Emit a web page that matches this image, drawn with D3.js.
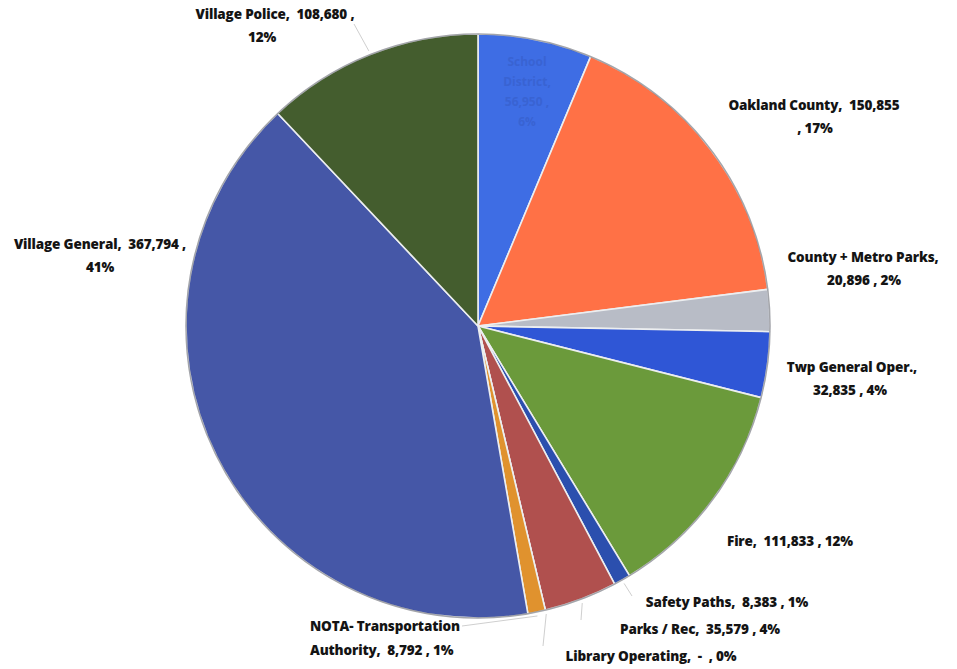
<!DOCTYPE html>
<html><head><meta charset="utf-8">
<script src="https://cdn.jsdelivr.net/npm/d3@7"></script>
<style>html,body{margin:0;padding:0;background:#fff;}svg{display:block;} text{white-space:pre;}</style>
</head><body>
<svg id="chart" width="957" height="669"></svg>
<script>
// ---- data ----
const categories = ["School District", "Oakland County", "County + Metro Parks", "Twp General Oper.", "Fire", "Safety Paths", "Parks / Rec", "Library Operating", "NOTA- Transportation Authority", "Village General", "Village Police"];
const values = [56950, 150855, 20896, 32835, 111833, 8383, 36579, 0, 8792, 367794, 108680];
const valueLabels = ["56,950", "150,855", "20,896", "32,835", "111,833", "8,383", "35,579", "-", "8,792", "367,794", "108,680"];
const pctLabels = ["6%", "17%", "2%", "4%", "12%", "1%", "4%", "0%", "1%", "41%", "12%"];
const colors = ["#3E6DE4", "#FF7146", "#B8BCC6", "#2F56D6", "#6B9A3B", "#2B4FAE", "#B0504E", "#999999", "#E0922E", "#4557A7", "#445D2E"];

// ---- layout (label placement) ----
const labelLayout = [
  {lines:[], x:[], y:[], anchor:"middle"},
  {lines:["Oakland County,  " + valueLabels[1], ", " + pctLabels[1]], x:[814,815], y:[110,133], anchor:"middle"},
  {lines:["County + Metro Parks,", valueLabels[2] + " , " + pctLabels[2]], x:[863,864], y:[262,285], anchor:"middle"},
  {lines:["Twp General Oper.,", valueLabels[3] + " , " + pctLabels[3]], x:[852,850], y:[372,395], anchor:"middle"},
  {lines:["Fire,  " + valueLabels[4] + " , " + pctLabels[4]], x:[790], y:[546], anchor:"middle"},
  {lines:["Safety Paths,  " + valueLabels[5] + " , " + pctLabels[5]], x:[727], y:[607], anchor:"middle"},
  {lines:["Parks / Rec,  " + valueLabels[6] + " , " + pctLabels[6]], x:[700], y:[634], anchor:"middle"},
  {lines:["Library Operating,  " + valueLabels[7] + "  , " + pctLabels[7]], x:[651], y:[661], anchor:"middle"},
  {lines:["NOTA- Transportation", "Authority,  " + valueLabels[8] + " , " + pctLabels[8]], x:[310,310], y:[631,655], anchor:"start"},
  {lines:["Village General,  " + valueLabels[9] + " ,", pctLabels[9]], x:[100,100], y:[249,272], anchor:"middle"},
  {lines:["Village Police,  " + valueLabels[10] + " ,", pctLabels[10]], x:[275,262], y:[19,42], anchor:"middle"}
];
const leaders = [
  null, null, null, null, null,
  {to:[632,596]}, {to:[581,620]}, {to:[543,646]}, {to:[462,626]}, null, {to:[354,24]}
];

const cx = 478, cy = 326, r = 292;
const svg = d3.select("#chart");
const g = svg.append("g").attr("transform", `translate(${cx},${cy})`);

const data = categories.map((c,i)=>({name:c, value:values[i], i}));
const pie = d3.pie().value(d=>d.value).sort(null).startAngle(0).endAngle(2*Math.PI);
const arcs = pie(data);
const arc = d3.arc().innerRadius(0).outerRadius(r);

g.selectAll("path.slice").data(arcs).join("path")
  .attr("class","slice")
  .attr("d", arc)
  .attr("fill", d=>colors[d.data.i])
  .attr("stroke", "#ECEEF0")
  .attr("stroke-width", 1.6)
  .attr("stroke-linejoin","round");

// dark outer rim
g.append("circle").attr("r", r).attr("fill","none").attr("stroke","rgba(30,30,40,0.35)").attr("stroke-width",1.5);

// leader lines
const rimArc = d3.arc().innerRadius(r+4).outerRadius(r+4);
arcs.forEach((a,i)=>{
  const L = leaders[i];
  if(!L) return;
  const p = rimArc.centroid(a);
  svg.append("line")
    .attr("x1", cx+p[0]).attr("y1", cy+p[1])
    .attr("x2", L.to[0]).attr("y2", L.to[1])
    .attr("stroke","#cfcfcf").attr("stroke-width",1);
});

// labels
labelLayout.forEach((L,i)=>{
  L.lines.forEach((t,j)=>{
    svg.append("text")
      .attr("x", L.x[j]).attr("y", L.y[j])
      .attr("text-anchor", L.anchor)
      .attr("font-family","'Open Sans', sans-serif")
      .attr("font-weight","800")
      .attr("font-size","13.5px")
      .attr("letter-spacing","-0.15")
      .attr("fill","#141414")
      .text(t);
  });
});

// faint inside label for first slice
const inside = ["School", "District,", valueLabels[0] + " ,", pctLabels[0]];
const ys = [66, 86, 106, 126];
inside.forEach((t,j)=>{
  svg.append("text").attr("x", 527).attr("y", ys[j]).attr("text-anchor","middle")
    .attr("font-family","'Open Sans', sans-serif").attr("font-weight","700").attr("font-size","12px")
    .attr("fill","#3963D2").text(t);
});
</script>
</body></html>
